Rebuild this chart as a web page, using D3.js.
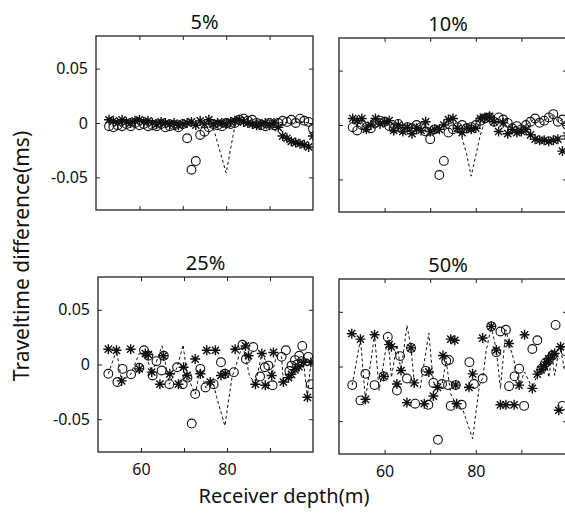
<!DOCTYPE html>
<html><head><meta charset="utf-8">
<script src="https://cdn.jsdelivr.net/npm/d3@7"></script>
<style>
body{margin:0;background:#fff}
svg{display:block}
text{font-family:"Noto Sans",sans-serif;fill:#111}
</style>
</head><body>
<svg id="chart" width="565" height="518"></svg>
<script>
// ---------------- DATA ----------------
const depthGrid = [53,54,55,56,57,58,59,60,61,62,63,64,65,66,67,68,69,70,71,72,73,74,75,76,77,78,79,80,81,82,83,84,85,86,87,88,89,90,91,92,93,94,95,96,97,98,99,100];

// 5% panel (values on depthGrid)
const stars5 = [0.003,0.002,0.000,0.003,0.001,0.000,0.002,0.003,0.001,0.002,0.000,-0.001,0.001,0.000,-0.001,0.000,-0.002,-0.001,0.000,0.001,-0.002,0.002,-0.001,0.003,-0.001,0.000,0.000,-0.001,0.001,0.002,0.003,0.001,0.000,-0.001,-0.002,-0.001,0.000,-0.002,0.000,-0.004,-0.012,-0.014,-0.017,-0.018,-0.019,-0.020,-0.022,-0.012];
const circles5 = [-0.003,-0.004,-0.002,-0.003,-0.001,-0.003,0.000,-0.002,-0.001,-0.003,-0.002,-0.003,-0.001,-0.004,-0.003,-0.002,-0.004,-0.001,-0.014,-0.043,-0.035,-0.011,-0.008,-0.004,-0.001,-0.002,-0.003,0.000,-0.001,0.000,0.003,0.004,0.002,0.003,0.000,-0.002,-0.003,0.000,-0.002,0.000,0.002,0.001,0.003,0.000,0.004,0.002,0.001,-0.005];
const line5 = [0.001,0.000,0.001,-0.001,0.000,0.001,0.000,0.002,-0.001,0.000,0.001,-0.001,0.000,-0.002,0.000,-0.001,0.001,-0.002,0.000,-0.001,0.000,-0.002,0.001,-0.001,-0.004,-0.018,-0.032,-0.046,-0.024,-0.003,0.002,0.001,0.002,0.000,-0.001,0.000,-0.001,0.000,-0.001,0.000,0.001,0.000,0.001,0.000,0.002,0.000,0.001,-0.002];

// 10% panel (values on depthGrid)
const stars10 = [0.006,0.004,0.006,-0.004,0.000,0.006,0.001,0.003,0.004,-0.005,0.000,-0.006,-0.002,-0.008,-0.003,-0.005,0.003,-0.006,-0.004,-0.004,0.000,0.005,0.006,-0.003,-0.007,-0.003,-0.004,-0.003,0.006,0.007,0.008,0.003,-0.006,0.002,-0.008,-0.004,-0.007,-0.006,-0.004,-0.009,-0.013,-0.014,-0.014,-0.015,-0.014,-0.013,-0.024,-0.010];
const circles10 = [-0.002,-0.005,0.000,-0.002,-0.003,0.002,0.004,0.003,-0.001,-0.003,0.001,-0.004,-0.002,-0.003,0.000,-0.002,-0.006,-0.013,-0.004,-0.046,-0.033,-0.007,-0.004,-0.002,0.000,-0.003,-0.002,0.000,0.004,0.006,0.007,0.003,0.007,0.005,0.002,-0.003,-0.001,-0.004,0.000,0.003,0.006,0.002,0.004,0.007,0.010,0.003,0.005,0.000];
const line10 = [0.003,0.001,0.002,-0.002,0.000,0.003,0.001,0.002,0.001,-0.003,0.000,-0.004,-0.002,-0.004,-0.002,-0.003,0.000,-0.004,-0.003,-0.003,0.000,0.001,0.002,-0.004,-0.012,-0.027,-0.047,-0.028,-0.009,0.004,0.006,0.002,0.003,0.004,0.002,-0.003,-0.001,-0.004,0.000,0.003,0.006,0.002,0.004,0.007,0.010,0.003,0.005,0.000];

// 25% panel ([depth, value])
const stars25 = [[52.4,0.014],[54.3,0.013],[55.5,-0.015],[57.6,0.014],[59.6,-0.004],[61.0,0.010],[61.7,0.009],[62.5,-0.007],[64.4,-0.018],[65.2,0.008],[66.7,-0.0085],[68.7,-0.018],[69.9,-0.0025],[70.7,-0.010],[72.6,0.005],[73.8,-0.0085],[75.3,0.013],[76.1,-0.016],[77.3,0.013],[78.6,-0.010],[79.6,-0.0085],[81.9,0.014],[84.3,0.017],[85.0,0.008],[86.6,-0.018],[88.1,0.010],[88.9,-0.019],[90.4,-0.010],[90.8,0.011],[93.1,-0.016],[94.3,-0.012],[95.0,-0.009],[95.8,-0.005],[96.7,-0.002],[97.8,0.002],[98.7,-0.030],[99.5,0.002]];
const circles25 = [[52.4,-0.0085],[54.5,-0.016],[55.7,-0.004],[57.7,-0.009],[59.6,-0.003],[60.7,0.013],[61.7,0.008],[62.7,-0.010],[63.6,0.003],[64.8,-0.0055],[65.3,0.008],[66.6,-0.018],[68.4,-0.0025],[69.7,-0.018],[70.8,-0.012],[71.8,-0.054],[72.6,-0.027],[73.8,-0.004],[75.0,-0.021],[76.9,-0.018],[78.6,0.002],[79.5,-0.0085],[81.6,-0.007],[83.6,0.018],[84.4,0.005],[86.1,0.016],[87.7,-0.011],[88.8,-0.0025],[89.6,-0.001],[90.6,-0.019],[92.7,0.007],[93.7,0.013],[94.5,-0.006],[95.0,-0.001],[95.8,0.004],[96.3,0.000],[96.8,0.008],[97.4,0.003],[97.5,0.017],[98.9,0.007],[99.5,-0.018]];
const line25 = [[52.4,-0.0085],[54.3,0.013],[55.5,-0.015],[57.6,-0.009],[59.6,0.010],[61.0,0.010],[62.5,-0.007],[63.6,0.003],[64.9,0.017],[66.6,-0.018],[68.4,-0.0025],[69.8,0.018],[70.7,-0.010],[72.6,-0.027],[73.8,-0.004],[75.0,-0.021],[76.9,-0.018],[77.6,-0.030],[79.5,-0.056],[81.2,-0.011],[81.6,-0.007],[83.6,0.018],[84.4,0.005],[85.2,-0.010],[86.6,-0.018],[88.1,0.010],[89.6,-0.001],[90.4,-0.010],[91.5,0.008],[92.7,0.007],[93.1,-0.016],[94.3,-0.012],[95.8,-0.005],[96.7,-0.002],[97.8,0.002],[98.7,-0.030],[99.5,0.002]];

// 50% panel ([depth, value])
const stars50 = [[52.8,0.030],[54.7,0.025],[55.8,-0.030],[57.8,0.029],[59.8,-0.009],[61.0,0.020],[61.5,0.018],[62.7,-0.016],[63.6,-0.0037],[64.9,-0.033],[65.8,0.017],[66.5,-0.015],[68.7,-0.034],[69.7,-0.005],[70.7,-0.027],[71.6,-0.019],[72.8,0.010],[74.5,0.025],[75.4,0.024],[75.6,-0.017],[75.8,-0.034],[78.5,-0.019],[79.3,-0.0067],[81.5,0.026],[83.4,0.0367],[84.5,0.015],[85.4,-0.035],[86.6,-0.035],[87.3,0.021],[88.4,-0.035],[89.5,-0.017],[90.7,0.029],[92.4,-0.020],[93.5,-0.007],[94.3,-0.003],[94.9,0.000],[95.5,0.004],[96.0,0.007],[96.7,0.010],[97.3,0.012],[98.2,-0.040],[98.6,0.018]];
const circles50 = [[52.9,-0.017],[54.7,-0.031],[55.8,-0.0067],[57.8,-0.017],[59.8,-0.009],[60.7,0.027],[62.7,-0.022],[63.4,0.0095],[64.9,-0.011],[65.8,0.017],[66.7,-0.034],[69.0,-0.004],[69.6,-0.035],[70.7,-0.015],[71.7,-0.067],[72.6,-0.016],[73.5,0.005],[73.9,-0.017],[74.1,0.006],[74.5,-0.036],[75.6,-0.017],[76.9,-0.035],[78.6,0.004],[79.6,-0.016],[81.5,-0.011],[83.4,0.0367],[84.5,0.013],[85.4,0.032],[86.6,0.0336],[87.3,-0.018],[88.5,-0.009],[89.5,-0.002],[90.6,-0.036],[92.4,0.016],[93.5,0.024],[94.4,-0.002],[95.2,0.003],[96.0,0.006],[96.8,0.010],[97.5,0.038],[99.0,-0.036],[99.7,0.014]];
const line50 = [[52.9,-0.017],[54.7,0.025],[55.8,-0.030],[57.8,0.029],[58.8,-0.022],[60.7,0.027],[61.5,-0.010],[62.7,0.020],[63.6,-0.004],[64.9,0.0376],[65.8,0.017],[66.5,-0.015],[67.8,-0.020],[69.7,0.0305],[70.7,-0.015],[72.6,-0.016],[73.5,0.005],[74.5,-0.025],[75.6,-0.034],[77.2,-0.040],[79.3,-0.066],[80.8,-0.017],[81.5,-0.011],[82.3,0.015],[83.4,0.0367],[84.5,0.015],[85.4,-0.020],[86.6,0.0336],[87.3,0.021],[88.4,0.005],[89.5,-0.017],[90.7,-0.005],[92.4,-0.020],[93.5,-0.007],[94.3,-0.003],[95.5,0.004],[96.0,-0.010],[96.7,0.010],[97.3,-0.008],[98.4,0.020],[99.5,-0.004]];

const panelTitles = ["5%","10%","25%","50%"];
const xDomain = [50,100];
const yDomain = [-0.08,0.08];
const xTicks = [60,70,80,90];
const xTickLabels = {60:"60",80:"80"};
const yTicks = [-0.05,0,0.05];
const yTickLabels = {"-0.05":"-0.05","0":"0","0.05":"0.05"};
const xTitle = "Receiver depth(m)";
const yTitle = "Traveltime difference(ms)";

// ---------------- DRAW ----------------
const zip = vals => depthGrid.map((d,i)=>[d,vals[i]]);
const panels = [
  {title:panelTitles[0], l:96,  t:36,  w:217, h:174, yl:true,  xl:false, stars:zip(stars5),  circles:zip(circles5),  line:zip(line5)},
  {title:panelTitles[1], l:339, t:38,  w:228, h:174, yl:false, xl:false, stars:zip(stars10), circles:zip(circles10), line:zip(line10)},
  {title:panelTitles[2], l:98,  t:277, w:215, h:175, yl:true,  xl:true,  stars:stars25, circles:circles25, line:line25},
  {title:panelTitles[3], l:339, t:279, w:228, h:175, yl:false, xl:true,  stars:stars50, circles:circles50, line:line50}
];

const svg = d3.select("#chart");
const defs = svg.append("defs");
const S = 5, D = S*0.72;
const starPath = `M${-S},0L${S},0M0,${-S}L0,${S}M${-D},${-D}L${D},${D}M${-D},${D}L${D},${-D}`;

panels.forEach((p,pi)=>{
  const x = d3.scaleLinear().domain(xDomain).range([p.l, p.l+p.w]);
  const y = d3.scaleLinear().domain(yDomain).range([p.t+p.h, p.t]);
  const clipId = "clip"+pi;
  defs.append("clipPath").attr("id",clipId).append("rect")
    .attr("x",p.l).attr("y",p.t).attr("width",p.w).attr("height",p.h);

  const g = svg.append("g");
  const plot = g.append("g").attr("clip-path",`url(#${clipId})`);

  plot.append("path").datum(p.line)
    .attr("fill","none").attr("stroke","#111").attr("stroke-width",1)
    .attr("stroke-dasharray","3,2.5")
    .attr("d", d3.line().x(d=>x(d[0])).y(d=>y(d[1])));

  plot.selectAll("circle.c").data(p.circles).join("circle")
    .attr("class","c").attr("cx",d=>x(d[0])).attr("cy",d=>y(d[1])).attr("r",4.4)
    .attr("fill","none").attr("stroke","#111").attr("stroke-width",1.1);

  plot.selectAll("path.s").data(p.stars).join("path")
    .attr("class","s").attr("transform",d=>`translate(${x(d[0])},${y(d[1])})`)
    .attr("d",starPath).attr("fill","none").attr("stroke","#111").attr("stroke-width",1.4);

  // axes (inward ticks)
  const bottom = g.append("g").attr("transform",`translate(0,${p.t+p.h})`)
    .call(d3.axisBottom(x).tickValues(xTicks).tickSizeInner(-4).tickSizeOuter(0).tickPadding(12)
      .tickFormat(v => p.xl ? (xTickLabels[v]||"") : ""));
  const top = g.append("g").attr("transform",`translate(0,${p.t})`)
    .call(d3.axisTop(x).tickValues(xTicks).tickSizeInner(-4).tickSizeOuter(0).tickFormat(""));
  const left = g.append("g").attr("transform",`translate(${p.l},0)`)
    .call(d3.axisLeft(y).tickValues(yTicks).tickSizeInner(-4).tickSizeOuter(0).tickPadding(8)
      .tickFormat(v => p.yl ? yTickLabels[String(+v.toFixed(2))] : ""));
  const right = g.append("g").attr("transform",`translate(${p.l+p.w},0)`)
    .call(d3.axisRight(y).tickValues(yTicks).tickSizeInner(-4).tickSizeOuter(0).tickFormat(""));
  [bottom,top,left,right].forEach(a=>{
    a.select(".domain").remove();
    a.selectAll("line").attr("stroke","#222");
    a.selectAll("text").style("font-size","16px").attr("fill","#111");
  });

  g.append("rect").attr("x",p.l).attr("y",p.t).attr("width",p.w).attr("height",p.h)
    .attr("fill","none").attr("stroke","#222").attr("stroke-width",1.3);

  g.append("text").attr("x",p.l+p.w/2 - (p.l>300 ? 5 : 0)).attr("y",p.t-7)
    .attr("text-anchor","middle").style("font-size","20px").text(p.title);
});

svg.append("text").attr("x",284).attr("y",503).attr("text-anchor","middle")
  .style("font-size","20px").text(xTitle);
svg.append("text").attr("transform","translate(29,256) rotate(-90)").attr("text-anchor","middle")
  .style("font-size","21px").text(yTitle);
</script>
</body></html>
